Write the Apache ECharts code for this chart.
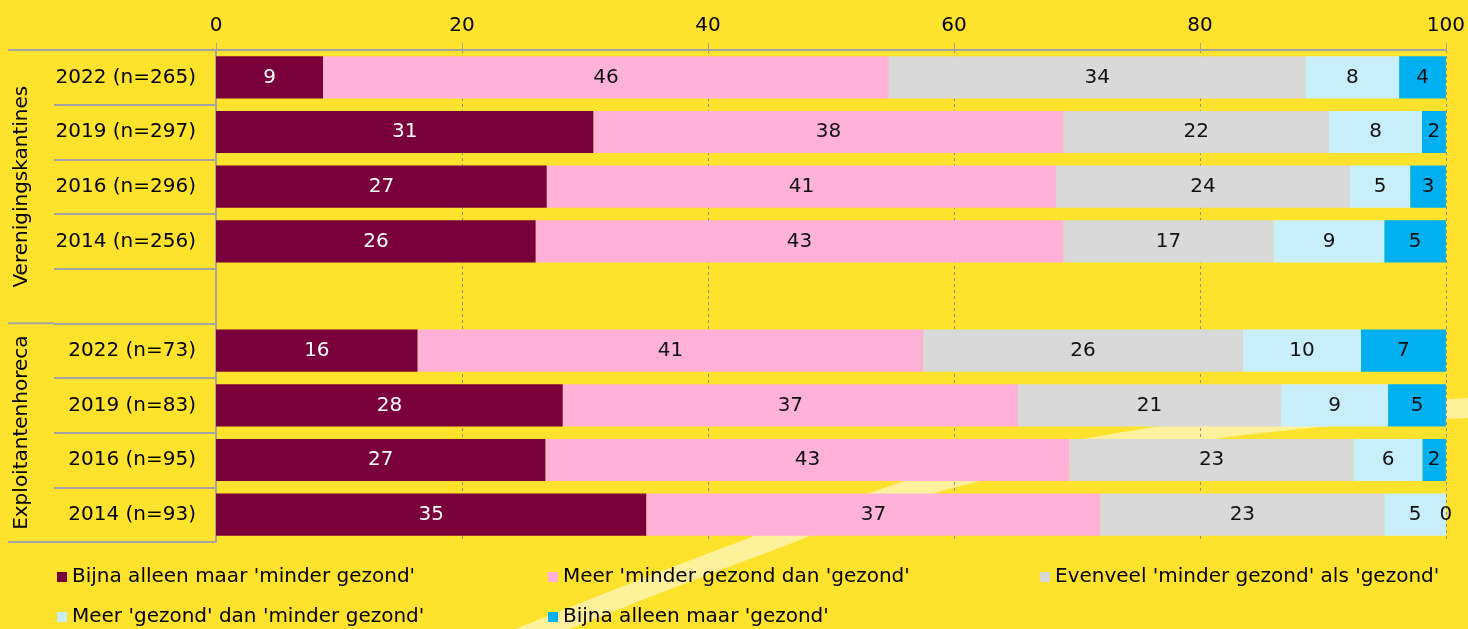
<!DOCTYPE html>
<html>
<head>
    <meta charset="utf-8">
    <title>ECharts</title>
    <script src="https://cdn.jsdelivr.net/npm/echarts@6/dist/echarts.min.js"></script>
</head>
<body>
<style>
    html, body, #main {
        width: 100%;
        height: 100%;
        padding: 0;
        margin: 0;
    }
</style>
<div id="main"></div>
<script type="text/javascript">

// rows from top to bottom, '' is the empty spacer row between the two groups
var categories = ['2022 (n=265)', '2019 (n=297)', '2016 (n=296)', '2014 (n=256)', '',
                  '2022 (n=73)', '2019 (n=83)', '2016 (n=95)', '2014 (n=93)'];
var groups = ['Verenigingskantines', 'Exploitantenhoreca'];

var bijnaMinder = [8.7, 30.7, 26.9, 26.0, '-', 16.4, 28.2, 26.8, 35.0];
var meerMinder  = [46.0, 38.2, 41.4, 42.9, '-', 41.1, 37.0, 42.6, 36.9];
var evenveel    = [33.9, 21.6, 23.9, 17.1, '-', 26.0, 21.4, 23.1, 23.1];
var meerGezond  = [7.6, 7.55, 4.9, 9.0, '-', 9.6, 8.7, 5.6, 5.0];
var bijnaGezond = [3.8, 1.95, 2.9, 5.0, '-', 6.9, 4.7, 1.9, 0];

var seriesNames = ["Bijna alleen maar 'minder gezond'", "Meer 'minder gezond dan 'gezond'",
                   "Evenveel 'minder gezond' als 'gezond'", "Meer 'gezond' dan 'minder gezond'",
                   "Bijna alleen maar 'gezond'"];
var colors = ['#7a003c', '#ffb1d8', '#d9d9d9', '#c8eefc', '#00b0f0'];

var font = 'DejaVu Sans';
var W = 1468, H = 629;
var gridLeft = 216, gridRight = 20, gridTop = 50, gridBottom = 87;
var rowH = (H - gridTop - gridBottom) / categories.length;
var lineColor = '#a3a3a3';

var myChart = echarts.init(document.getElementById('main'));

function makeSeries(name, data, i) {
    return {
        name: name,
        type: 'bar',
        stack: 'total',
        data: data,
        barCategoryGap: '23%',
        itemStyle: { color: colors[i] },
        label: {
            show: true,
            position: 'inside',
            fontFamily: font,
            fontSize: 20,
            color: i === 0 ? '#ffffff' : '#111111',
            formatter: function (p) { return Math.round(p.value); }
        }
    };
}

var allData = [bijnaMinder, meerMinder, evenveel, meerGezond, bijnaGezond];
var series = seriesNames.map(function (n, i) { return makeSeries(n, allData[i], i); });

// legend: three columns, two rows
var legendPos = [[57, 567], [548, 567], [1040, 567], [57, 607], [548, 607]];
var legends = seriesNames.map(function (n, i) {
    return {
        data: [n],
        left: legendPos[i][0],
        top: legendPos[i][1],
        padding: 0,
        icon: 'rect',
        itemWidth: 10,
        itemHeight: 10,
        selectedMode: false,
        textStyle: { fontFamily: font, fontSize: 20, color: '#000' }
    };
});

// group separators extend further left than the row ticks
var sepY = [gridTop, gridTop + 5 * rowH, H - gridBottom];
var graphics = sepY.map(function (y) {
    return {
        type: 'line',
        shape: { x1: 8, y1: y, x2: 54, y2: y },
        style: { stroke: lineColor, lineWidth: 2 }
    };
});
graphics.push({
    type: 'text', x: 22, y: gridTop + 2.5 * rowH, rotation: Math.PI / 2,
    style: { text: groups[0], fontFamily: font, fontSize: 20, fill: '#000', align: 'center', verticalAlign: 'middle' }
});
graphics.push({
    type: 'text', x: 22, y: gridTop + 7 * rowH, rotation: Math.PI / 2,
    style: { text: groups[1], fontFamily: font, fontSize: 20, fill: '#000', align: 'center', verticalAlign: 'middle' }
});
// pale decorative swoosh in the background
graphics.push({
    type: 'polyline',
    z: -10,
    silent: true,
    shape: {
        points: [[490, 650], [610, 602], [740, 552], [910, 490], [1030, 460], [1150, 438], [1300, 419], [1470, 408]],
        smooth: 0.4
    },
    style: { stroke: '#fff09c', lineWidth: 20, fill: null }
});

myChart.setOption({
    animation: false,
    backgroundColor: '#ffe22b',
    textStyle: { fontFamily: font },
    grid: { left: gridLeft, right: gridRight, top: gridTop, bottom: gridBottom },
    legend: legends,
    graphic: graphics,
    xAxis: {
        type: 'value',
        position: 'top',
        min: 0,
        max: 100,
        interval: 20,
        axisLine: { show: true, lineStyle: { color: lineColor, width: 2 } },
        axisTick: { show: true, length: 7, lineStyle: { color: lineColor } },
        axisLabel: { fontFamily: font, fontSize: 20, color: '#000', margin: 14 },
        splitLine: { show: true, lineStyle: { color: '#909090', type: [3, 3], width: 1 } }
    },
    yAxis: {
        type: 'category',
        inverse: true,
        data: categories,
        axisLine: { show: true, lineStyle: { color: lineColor, width: 2 } },
        axisTick: { show: true, length: 162, lineStyle: { color: lineColor, width: 2 } },
        axisLabel: { fontFamily: font, fontSize: 20, color: '#000', margin: 20 }
    },
    series: series
});

window.onresize = function () {
    myChart.resize();
};
</script>
</body>
</html>
